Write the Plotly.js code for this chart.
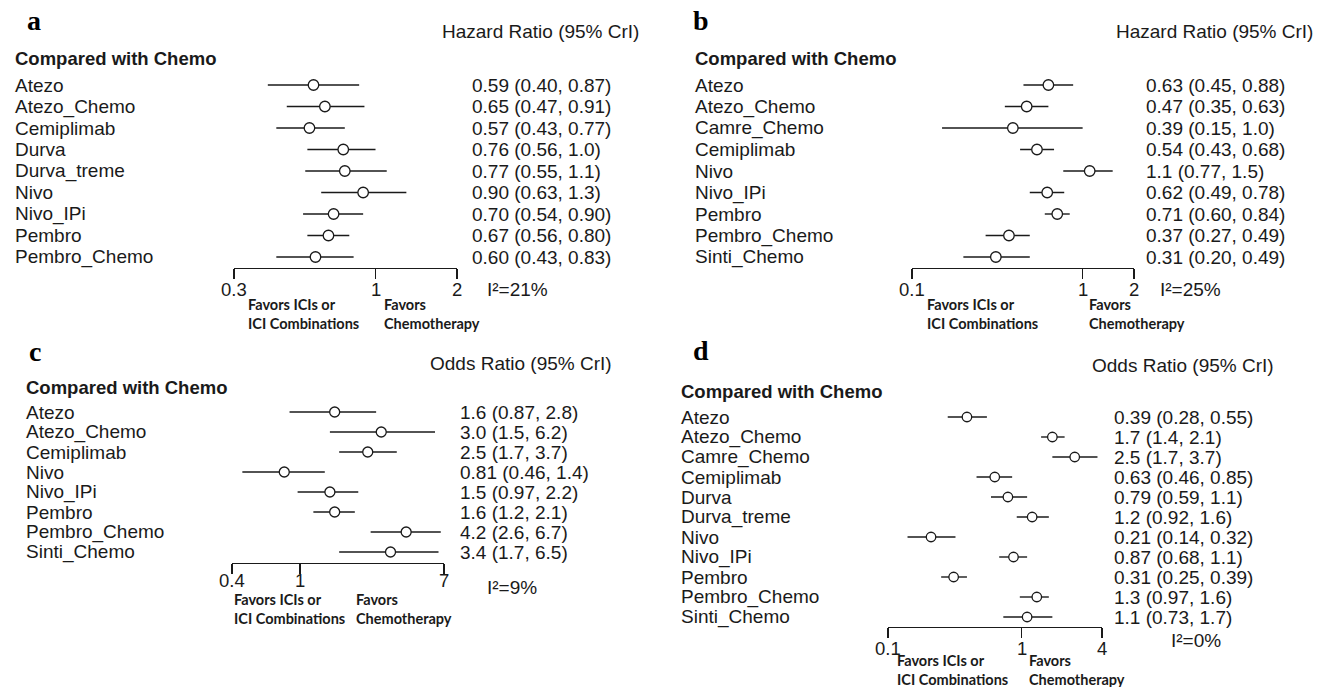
<!DOCTYPE html>
<html>
<head>
<meta charset="utf-8">
<script src="https://cdn.plot.ly/plotly-3.0.1.min.js"></script>
<style>
html,body{margin:0;padding:0;background:#fff;}
#chart{width:1327px;height:687px;}
</style>
</head>
<body>
<div id="chart"></div>
<script>
// ---------- DATA ----------
const aCats = ["Atezo","Atezo_Chemo","Cemiplimab","Durva","Durva_treme","Nivo","Nivo_IPi","Pembro","Pembro_Chemo"];
const aEst  = [0.59,0.65,0.57,0.76,0.77,0.90,0.70,0.67,0.60];
const aLo   = [0.40,0.47,0.43,0.56,0.55,0.63,0.54,0.56,0.43];
const aHi   = [0.87,0.91,0.77,1.0,1.1,1.3,0.90,0.80,0.83];
const aTicks = [0.3,1,2];

const bCats = ["Atezo","Atezo_Chemo","Camre_Chemo","Cemiplimab","Nivo","Nivo_IPi","Pembro","Pembro_Chemo","Sinti_Chemo"];
const bEst  = [0.63,0.47,0.39,0.54,1.1,0.62,0.71,0.37,0.31];
const bLo   = [0.45,0.35,0.15,0.43,0.77,0.49,0.60,0.27,0.20];
const bHi   = [0.88,0.63,1.0,0.68,1.5,0.78,0.84,0.49,0.49];
const bTicks = [0.1,1,2];

const cCats = ["Atezo","Atezo_Chemo","Cemiplimab","Nivo","Nivo_IPi","Pembro","Pembro_Chemo","Sinti_Chemo"];
const cEst  = [1.6,3.0,2.5,0.81,1.5,1.6,4.2,3.4];
const cLo   = [0.87,1.5,1.7,0.46,0.97,1.2,2.6,1.7];
const cHi   = [2.8,6.2,3.7,1.4,2.2,2.1,6.7,6.5];
const cTicks = [0.4,1,7];

const dCats = ["Atezo","Atezo_Chemo","Camre_Chemo","Cemiplimab","Durva","Durva_treme","Nivo","Nivo_IPi","Pembro","Pembro_Chemo","Sinti_Chemo"];
const dEst  = [0.39,1.7,2.5,0.63,0.79,1.2,0.21,0.87,0.31,1.3,1.1];
const dLo   = [0.28,1.4,1.7,0.46,0.59,0.92,0.14,0.68,0.25,0.97,0.73];
const dHi   = [0.55,2.1,3.7,0.85,1.1,1.6,0.32,1.1,0.39,1.6,1.7];
const dTicks = [0.1,1,4];

const panelLetters = ["a","b","c","d"];
const headers = ["Hazard Ratio (95% CrI)","Hazard Ratio (95% CrI)","Odds Ratio (95% CrI)","Odds Ratio (95% CrI)"];
const i2Labels = ["I²=21%","I²=25%","I²=9%","I²=0%"];
const groupTitle = "Compared with Chemo";
const favLeft = "Favors ICIs or<br>ICI Combinations";
const favRight = "Favors<br>Chemotherapy";

// ---------- LAYOUT GEOMETRY (pixels) ----------
const W = 1327, H = 687;
const geo = [
  {axL:234, axR:457, axY:268, vTop:42, row0:85, dRow:21.5, labX:13, valX:470, headX:540, headY:32, letX:34, letY:21, cmpY:59, favL:246, favR:382, favY:314, i2X:485, i2Y:290, tickY:290, msize:10.5},
  {axL:912, axR:1134, axY:268, vTop:42, row0:85, dRow:21.5, labX:693, valX:1144, headX:1214, headY:32, letX:701, letY:20, cmpY:59, favL:925, favR:1087, favY:314, i2X:1158, i2Y:290, tickY:290, msize:10.5},
  {axL:232, axR:444, axY:563, vTop:372, row0:412, dRow:20, labX:24, valX:458, headX:521, headY:363, letX:35, letY:351, cmpY:387, favL:232, favR:354, favY:609, i2X:485, i2Y:587, tickY:580, msize:10},
  {axL:888, axR:1102, axY:627, vTop:375, row0:417, dRow:20, labX:679, valX:1112, headX:1183, headY:365, letX:701, letY:350, cmpY:391, favL:895, favR:1027, favY:670, i2X:1169, i2Y:640, tickY:648, msize:9.5}
];
const panels = [
  {cats:aCats, est:aEst, lo:aLo, hi:aHi, ticks:aTicks},
  {cats:bCats, est:bEst, lo:bLo, hi:bHi, ticks:bTicks},
  {cats:cCats, est:cEst, lo:cLo, hi:cHi, ticks:cTicks},
  {cats:dCats, est:dEst, lo:dLo, hi:dHi, ticks:dTicks}
];

const INK = "#1a1a1a";
const FONT = "Liberation Sans, Arial, sans-serif";
const FONT_FAV = "Lato, Open Sans, sans-serif";
const px = x => x / W;
const py = y => 1 - y / H;
const fmt = v => v.toPrecision(2);

const data = [];
const shapes = [];
const annotations = [];
const layout = {
  width: W, height: H,
  margin: {l:0, r:0, t:0, b:0},
  paper_bgcolor: "#ffffff", plot_bgcolor: "rgba(0,0,0,0)",
  showlegend: false,
  shapes: shapes, annotations: annotations
};

panels.forEach((p, k) => {
  const g = geo[k];
  const n = k === 0 ? "" : String(k + 1);
  const xa = "x" + n, ya = "y" + n;
  const idx = p.cats.map((_, i) => i);

  data.push({
    type: "scatter", mode: "markers",
    x: p.est, y: idx, xaxis: xa, yaxis: ya,
    marker: {symbol: "circle", size: g.msize, color: "#ffffff", line: {color: INK, width: 1.3}},
    error_x: {
      type: "data", symmetric: false,
      array: p.est.map((v, i) => p.hi[i] - v),
      arrayminus: p.est.map((v, i) => v - p.lo[i]),
      width: 0, thickness: 1.4, color: INK
    },
    hoverinfo: "skip", cliponaxis: false
  });

  const lo = Math.min(...p.ticks), hi = Math.max(...p.ticks);
  layout["xaxis" + n] = {
    type: "log", domain: [px(g.axL), px(g.axR)],
    range: [Math.log10(lo), Math.log10(hi)],
    anchor: ya, showline: true, linecolor: INK, linewidth: 1.4,
    ticks: "outside", ticklen: 10, tickwidth: 1.4, tickcolor: INK,
    tickmode: "array", tickvals: p.ticks, showticklabels: false,
    showgrid: false, zeroline: false, fixedrange: true
  };
  layout["yaxis" + n] = {
    domain: [py(g.axY), py(g.vTop)],
    range: [(g.axY - g.row0) / g.dRow, (g.vTop - g.row0) / g.dRow],
    anchor: xa, visible: false, showgrid: false, zeroline: false, fixedrange: true
  };

  // tick labels placed on the log axis
  p.ticks.forEach(t => {
    annotations.push({xref: xa, yref: "paper", x: Math.log10(t), y: py(g.tickY), xanchor: "center", yanchor: "middle",
      text: String(t), showarrow: false, font: {family: FONT, size: 18.5, color: INK}});
  });

  // reference line at ratio = 1
  shapes.push({type: "line", xref: xa, yref: ya + " domain", x0: 0, x1: 0, y0: 0, y1: 1,
               line: {color: INK, width: 1.4}});

  // letters, headers, group title
  annotations.push({xref: "paper", yref: "paper", x: px(g.letX), y: py(g.letY), xanchor: "center", yanchor: "middle",
    text: "<b>" + panelLetters[k] + "</b>", showarrow: false,
    font: {family: "Liberation Serif, Times New Roman, serif", size: 28, color: "#000"}});
  annotations.push({xref: "paper", yref: "paper", x: px(g.headX), y: py(g.headY), xanchor: "center", yanchor: "middle",
    text: headers[k], showarrow: false, font: {family: FONT, size: 19, color: INK}});
  annotations.push({xref: "paper", yref: "paper", x: px(g.labX), y: py(g.cmpY), xanchor: "left", yanchor: "middle",
    text: "<b>" + groupTitle + "</b>", showarrow: false, font: {family: FONT, size: 18.5, color: INK}});

  // row labels & values
  p.cats.forEach((c, i) => {
    annotations.push({xref: "paper", yref: ya, x: px(g.labX), y: i, xanchor: "left", yanchor: "middle",
      text: c, showarrow: false, font: {family: FONT, size: 19, color: INK}});
    annotations.push({xref: "paper", yref: ya, x: px(g.valX), y: i, xanchor: "left", yanchor: "middle",
      text: fmt(p.est[i]) + " (" + fmt(p.lo[i]) + ", " + fmt(p.hi[i]) + ")", showarrow: false,
      font: {family: FONT, size: 19, color: INK}});
  });

  // favors and I2
  annotations.push({xref: "paper", yref: "paper", x: px(g.favL), y: py(g.favY), xanchor: "left", yanchor: "middle", align: "left",
    text: "<b>" + favLeft + "</b>", showarrow: false, font: {family: FONT_FAV, size: 14.5, color: INK}});
  annotations.push({xref: "paper", yref: "paper", x: px(g.favR), y: py(g.favY), xanchor: "left", yanchor: "middle", align: "left",
    text: "<b>" + favRight + "</b>", showarrow: false, font: {family: FONT_FAV, size: 14.5, color: INK}});
  annotations.push({xref: "paper", yref: "paper", x: px(g.i2X), y: py(g.i2Y), xanchor: "left", yanchor: "middle",
    text: i2Labels[k], showarrow: false, font: {family: FONT, size: 19, color: INK}});
});

Plotly.newPlot("chart", data, layout, {staticPlot: true, displayModeBar: false});
</script>
</body>
</html>
